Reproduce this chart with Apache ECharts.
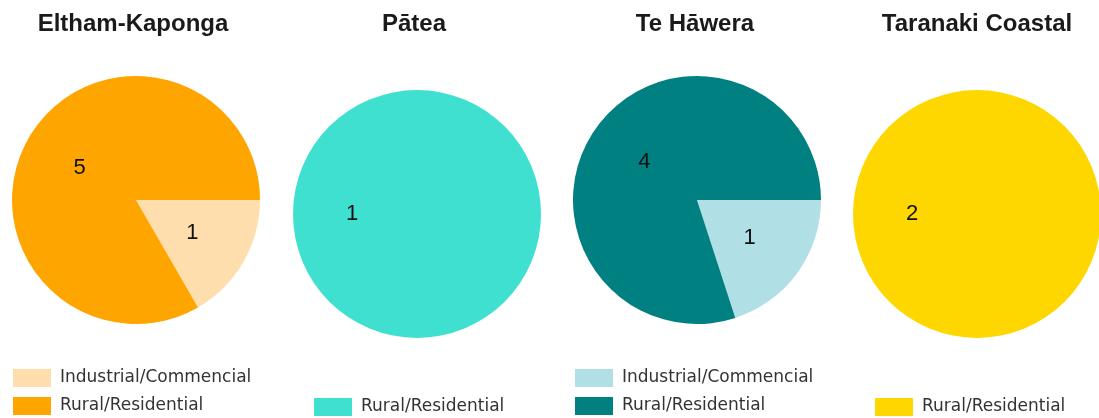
<!DOCTYPE html>
<html>
<head>
<meta charset="utf-8">
<script src="https://cdn.jsdelivr.net/npm/echarts@6/dist/echarts.min.js"></script>
<style>
  html, body { margin: 0; padding: 0; background: #fff; overflow: hidden; }
  #wrap { position: relative; width: 1099px; height: 418px; overflow: hidden; }
  .pie { position: absolute; top: 0; width: 280px; height: 418px; }
</style>
</head>
<body>
<div id="wrap"></div>
<script>
const regions = ['Eltham-Kaponga', 'Pātea', 'Te Hāwera', 'Taranaki Coastal']
const categories = ['Industrial/Commencial', 'Rural/Residential']
const industrialCounts = [1, 0, 1, 0]
const ruralCounts = [5, 1, 4, 2]
const industrialColors = ['#FFDEAD', '#AFEEEE', '#B0E0E6', '#FFEFA0']
const ruralColors = ['#FFA500', '#40E0D0', '#008080', '#FFD700']

// layout per panel (absolute px in the 1099x418 frame)
const titleX = [133, 414, 695, 977]
const pieX = [136, 417, 697, 977]
const pieY = [200, 214, 200, 214]
const legendX = [13, 314, 575, 875]
const radius = 124

const wrap = document.getElementById('wrap')

regions.forEach((name, i) => {
  const left = i * 280
  const el = document.createElement('div')
  el.className = 'pie'
  el.style.left = left + 'px'
  wrap.appendChild(el)

  const data = []
  if (industrialCounts[i] > 0) {
    data.push({ name: categories[0], value: industrialCounts[i], itemStyle: { color: industrialColors[i] } })
  }
  if (ruralCounts[i] > 0) {
    data.push({ name: categories[1], value: ruralCounts[i], itemStyle: { color: ruralColors[i] } })
  }
  const legendTop = data.length > 1 ? 369 : 398

  const chart = echarts.init(el, null, { renderer: 'canvas' })
  chart.setOption({
    animation: false,
    title: {
      text: name,
      left: titleX[i] - left - 5,
      top: 7,
      textAlign: 'center',
      textStyle: { fontFamily: 'Liberation Sans, Arial, sans-serif', fontSize: 24, fontWeight: 'bold', color: '#1a1a1a' },
    },
    legend: {
      orient: 'vertical',
      left: legendX[i] - left,
      top: legendTop,
      padding: 0,
      itemWidth: 38,
      itemHeight: 18,
      itemGap: 10,
      icon: 'rect',
      selectedMode: false,
      data: data.map((d) => d.name),
      textStyle: { fontFamily: 'DejaVu Sans, sans-serif', fontSize: 17, color: '#333', padding: [0, 0, 0, 4] },
    },
    series: [
      {
        type: 'pie',
        center: [pieX[i] - left, pieY[i]],
        radius: radius,
        startAngle: 0,
        clockwise: true,
        avoidLabelOverlap: false,
        itemStyle: { borderWidth: 0 },
        label: {
          show: true,
          position: 'inner',
          formatter: '{c}',
          fontFamily: 'Liberation Sans, Arial, sans-serif',
          fontSize: 22,
          color: '#111',
        },
        labelLine: { show: false },
        emphasis: { disabled: true },
        data: data,
      },
    ],
  })
})
</script>
</body>
</html>
